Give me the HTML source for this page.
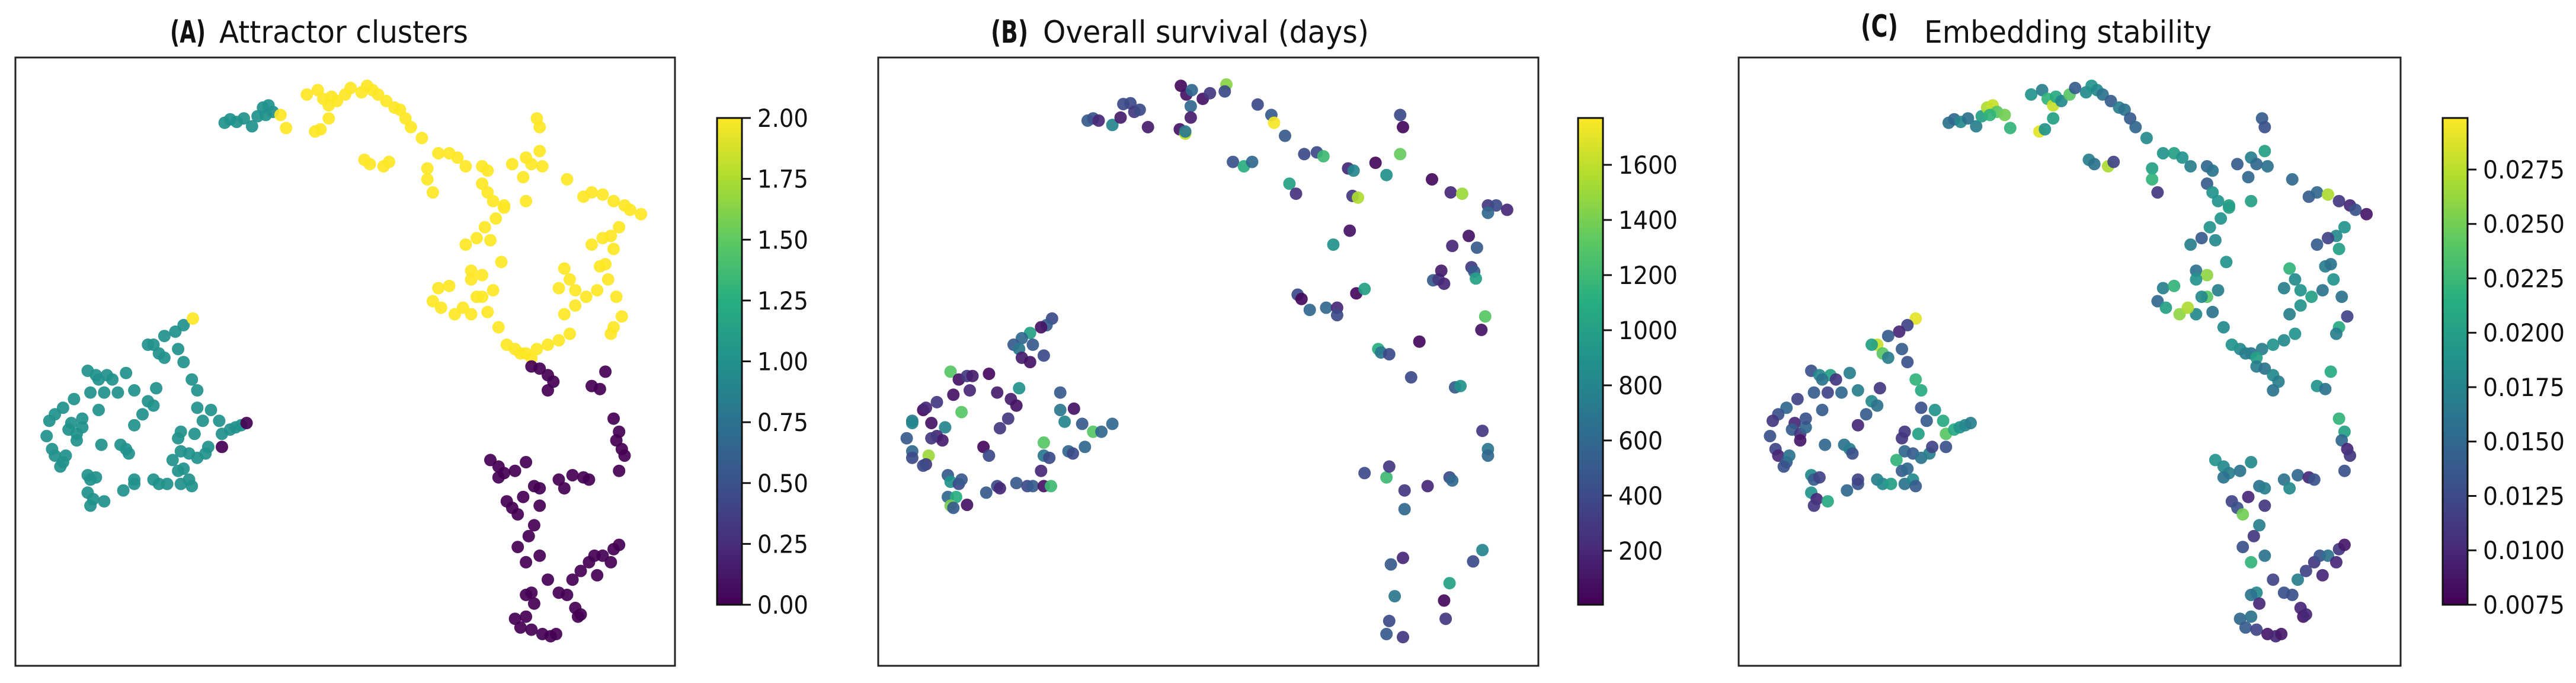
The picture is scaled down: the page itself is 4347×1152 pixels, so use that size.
<!DOCTYPE html>
<html><head><meta charset="utf-8"><style>
html,body{margin:0;padding:0;background:#fff;}
svg{display:block;font-family:"DejaVu Sans","Liberation Sans",sans-serif;}
</style></head>
<body>
<svg id="fig" width="4347" height="1152" viewBox="0 0 4347 1152" xmlns="http://www.w3.org/2000/svg">
<rect width="4347" height="1152" fill="#fff"/>
<g fill="#111">
<text x="287" y="72" font-size="52" font-weight="bold" textLength="60" lengthAdjust="spacingAndGlyphs">(A)</text>
<text x="370" y="72" font-size="52" textLength="420" lengthAdjust="spacingAndGlyphs">Attractor clusters</text></g>
<g fill="#111">
<text x="1672" y="72" font-size="52" font-weight="bold" textLength="63" lengthAdjust="spacingAndGlyphs">(B)</text>
<text x="1760" y="72" font-size="52" textLength="550" lengthAdjust="spacingAndGlyphs">Overall survival (days)</text></g>
<g fill="#111">
<text x="3140" y="62" font-size="52" font-weight="bold" textLength="63" lengthAdjust="spacingAndGlyphs">(C)</text>
<text x="3247" y="72" font-size="52" textLength="485" lengthAdjust="spacingAndGlyphs">Embedding stability</text></g>
</svg>
<script>
// ---- data (embedding coordinates) ----
const embXDomain = [28, 1232];
const embYDomain = [130, 1528];
const clusterTicks = [0, 0.25, 0.5, 0.75, 1.0, 1.25, 1.5, 1.75, 2.0];
const clusterTickLabels = ["0.00","0.25","0.50","0.75","1.00","1.25","1.50","1.75","2.00"];
const clusterRange = [0, 2];
const clusterPoints = [
[410,280,1],[420,272,1],[432,278,1],[445,270,1],[460,288,1],[470,265,1],[480,245,1],[490,240,1],[498,255,1],[485,262,1],[512,262,2],[522,292,2],
[560,215,2],[580,205,2],[590,225,2],[600,240,2],[605,220,2],[615,230,2],[630,215,2],[640,200,2],[660,210,2],[670,195,2],[680,205,2],[690,215,2],[705,230,2],[720,245,2],[730,250,2],[740,270,2],[750,290,2],[770,315,2],[575,300,2],[585,295,2],[600,270,2],[665,365,2],[675,375,2],[700,380,2],[710,370,2],[780,385,2],[780,410,2],[790,440,2],[800,350,2],[820,350,2],[835,360,2],[850,380,2],[880,380,2],[890,390,2],[880,420,2],[890,440,2],[900,460,2],[920,470,2],[935,375,2],[960,360,2],[970,375,2],[985,345,2],[990,380,2],[955,405,2],[980,270,2],[985,290,2],[960,460,2],[1035,410,2],[1065,450,2],[1080,440,2],[1100,445,2],[1120,460,2],[1140,470,2],[1150,480,2],[1170,490,2],[1130,520,2],[1115,540,2],[1100,545,2],[1080,560,2],[1120,570,2],[1095,610,2],[1105,605,2],[1030,615,2],[1040,640,2],[1020,660,2],[1050,665,2],[1090,665,2],[1110,640,2],[1125,680,2],[1070,680,2],[1050,700,2],[1030,720,2],[1135,725,2],[1120,750,2],[1115,765,2],[1040,765,2],[1020,780,2],[1000,790,2],[980,800,2],[960,810,2],[940,800,2],[925,790,2],[950,810,2],[970,820,2],[910,750,2],[890,715,2],[880,680,2],[900,665,2],[870,680,2],[860,720,2],[830,720,2],[845,705,2],[800,660,2],[790,690,2],[805,705,2],[820,655,2],[860,620,2],[880,630,2],[860,640,2],[915,600,2],[850,560,2],[870,545,2],[895,550,2],[885,520,2],[905,500,2],[920,475,2],
[970,840,0],[985,845,0],[1000,860,0],[1010,875,0],[1000,895,0],[1105,852,0],[1080,885,0],[1095,892,0],[1120,960,0],[1130,990,0],[1125,1010,0],[1135,1030,0],[1140,1045,0],[1130,1080,0],[895,1055,0],[910,1070,0],[920,1085,0],[940,1080,0],[960,1060,0],[910,1095,0],[925,1150,0],[935,1165,0],[945,1180,0],[955,1140,0],[975,1115,0],[985,1120,0],[985,1160,0],[1020,1100,0],[1030,1120,0],[1045,1090,0],[1065,1095,0],[1075,1100,0],[975,1205,0],[965,1230,0],[945,1255,0],[960,1290,0],[985,1275,0],[1000,1330,0],[970,1360,0],[960,1365,0],[975,1385,0],[1035,1365,0],[1045,1330,0],[1060,1310,0],[1075,1290,0],[1085,1275,0],[1100,1275,0],[1115,1290,0],[1120,1260,0],[1130,1250,0],[1090,1320,0],[1050,1395,0],[1055,1415,0],[1060,1410,0],[940,1420,0],[950,1440,0],[960,1415,0],[970,1445,0],[990,1455,0],[1005,1460,0],[1015,1455,0],[1020,1360,0],
[335,745,1],[320,760,1],[300,770,1],[280,790,1],[270,790,1],[290,810,1],[300,820,1],[325,800,1],[335,830,1],[160,850,1],[175,860,1],[195,860,1],[205,870,1],[230,855,1],[180,870,1],[350,870,1],[360,895,1],[245,895,1],[285,890,1],[270,920,1],[280,930,1],[260,950,1],[245,975,1],[215,900,1],[190,900,1],[165,900,1],[135,915,1],[115,935,1],[100,950,1],[90,965,1],[130,970,1],[125,985,1],[140,995,1],[150,980,1],[180,940,1],[150,960,1],[85,1000,1],[95,1030,1],[100,1045,1],[115,1060,1],[110,1070,1],[120,1045,1],[140,1010,1],[185,1020,1],[220,1020,1],[230,1030,1],[235,1040,1],[360,935,1],[385,940,1],[370,965,1],[400,965,1],[330,990,1],[355,995,1],[325,1005,1],[330,1035,1],[345,1040,1],[360,1050,1],[375,1040,1],[380,1025,1],[315,1055,1],[325,1080,1],[335,1075,1],[405,995,1],[420,985,1],[430,980,1],[440,975,1],[160,1090,1],[165,1100,1],[175,1095,1],[160,1130,1],[170,1145,1],[165,1160,1],[190,1150,1],[225,1125,1],[245,1110,1],[245,1100,1],[280,1100,1],[290,1110,1],[305,1110,1],[330,1110,1],[345,1100,1],[350,1115,1],[450,970,0],[405,1025,0],[352,730,2]
];
const survivalTicks = [200, 400, 600, 800, 1000, 1200, 1400, 1600];
const survivalTickLabels = ["200","400","600","800","1000","1200","1400","1600"];
const survivalRange = [4, 1770];
const survivalPoints = [
[580,195,50],[590,215,100],[600,205,600],[620,225,100],[633,212,300],[663,192,1450],[660,208,400],[720,238,400],[745,262,500],[750,280,1750],[770,310,500],[578,295,100],[588,305,1600],[588,300,700],[598,242,600],[598,268,150],[410,275,500],[420,270,450],[430,275,200],[455,285,800],[470,268,150],[475,237,400],[488,235,400],[495,255,300],[505,250,400],[520,290,150],[675,370,450],[695,380,1100],[710,370,600],[805,352,400],[828,348,400],[840,357,1200],[885,385,200],[895,390,800],[935,372,50],[980,352,1350],[955,400,900],[980,262,400],[985,290,50],[1038,410,50],[1072,440,200],[1093,443,1500],[778,420,1000],[790,443,250],[893,448,300],[903,452,1550],[1140,470,300],[1155,470,400],[1175,480,200],[1140,487,600],[888,528,100],[858,560,900],[1075,563,200],[1105,540,100],[1120,567,500],[1110,612,300],[1115,622,500],[1118,638,1000],[1040,642,500],[1050,640,300],[1055,620,150],[1060,650,200],[1135,725,1300],[1128,756,100],[793,675,400],[800,685,50],[815,710,600],[845,705,600],[865,705,200],[865,722,400],[900,672,50],[915,662,1000],[1015,783,50],[940,800,1100],[945,808,700],[960,812,400],[1000,865,400],[1080,888,500],[1090,885,900],[1130,988,300],[1140,1030,700],[1140,1045,600],[915,1085,400],[955,1095,1200],[960,1070,300],[988,1125,300],[988,1168,600],[1030,1115,200],[1070,1095,400],[1075,1102,600],[1130,1262,800],[1113,1288,400],[963,1295,500],[985,1280,200],[970,1368,700],[1060,1378,50],[1070,1338,1000],[955,1455,500],[960,1425,400],[985,1462,300],[1063,1420,300],
[345,730,400],[335,745,500],[325,750,100],[305,763,1000],[290,775,600],[275,790,500],[285,800,700],[290,820,150],[305,830,100],[310,790,500],[330,815,400],[160,852,1300],[175,870,100],[190,862,300],[200,862,150],[230,857,50],[245,900,150],[195,895,200],[165,905,100],[285,890,900],[270,915,150],[280,930,100],[265,960,300],[250,982,300],[180,945,1300],[110,940,50],[115,935,200],[135,922,300],[90,965,700],[90,970,800],[125,970,100],[150,980,800],[135,1000,200],[145,1010,150],[125,1005,300],[80,1005,500],[90,1035,600],[90,1050,400],[120,1045,1500],[115,1065,300],[110,1068,400],[220,1025,50],[230,1045,400],[360,900,500],[360,940,700],[385,937,100],[368,967,800],[400,972,500],[420,990,1300],[435,990,600],[455,972,600],[330,1015,1300],[330,1045,700],[340,1050,400],[375,1035,600],[383,1040,400],[405,1025,600],[325,1080,200],[155,1090,500],[160,1105,900],[175,1110,400],[180,1100,500],[155,1140,600],[170,1140,1100],[160,1160,1400],[165,1165,500],[190,1158,100],[225,1130,500],[245,1115,400],[250,1120,200],[280,1108,500],[300,1115,400],[310,1115,500],[330,1115,100],[343,1115,1200]
];
const stabilityTicks = [0.0075,0.01,0.0125,0.015,0.0175,0.02,0.0225,0.025,0.0275];
const stabilityTickLabels = ["0.0075","0.0100","0.0125","0.0150","0.0175","0.0200","0.0225","0.0250","0.0275"];
const stabilityRange = [0.0075, 0.02987];
const stabilityPoints = [
[410,280,0.016],[420,272,0.015],[432,278,0.018],[445,270,0.016],[460,288,0.017],[470,265,0.020],[480,245,0.027],[490,240,0.028],[498,255,0.024],[485,262,0.022],[512,262,0.025],[522,292,0.022],
[560,215,0.019],[580,205,0.017],[590,225,0.022],[600,240,0.028],[605,220,0.021],[615,230,0.018],[630,215,0.024],[640,200,0.014],[660,210,0.018],[670,195,0.019],[680,205,0.018],[690,215,0.016],[705,230,0.014],[720,245,0.017],[730,250,0.016],[740,270,0.014],[750,290,0.015],[770,315,0.018],[575,300,0.029],[585,295,0.019],[600,270,0.020],[665,365,0.017],[675,375,0.016],[700,380,0.027],[710,370,0.012],[780,385,0.020],[780,410,0.022],[790,440,0.011],[800,350,0.019],[820,350,0.020],[835,360,0.019],[850,380,0.017],[880,380,0.015],[890,390,0.016],[880,420,0.014],[890,440,0.019],[900,460,0.019],[920,470,0.020],[935,375,0.014],[960,360,0.017],[970,375,0.015],[985,345,0.020],[990,380,0.016],[955,405,0.015],[980,270,0.014],[985,290,0.013],[960,460,0.020],[1035,410,0.015],[1065,450,0.014],[1080,440,0.015],[1100,445,0.027],[1120,460,0.011],[1140,470,0.010],[1150,480,0.013],[1170,490,0.009],[1130,520,0.019],[1115,540,0.018],[1100,545,0.012],[1080,560,0.014],[1120,570,0.020],[1095,610,0.017],[1105,605,0.016],[1030,615,0.022],[1040,640,0.018],[1020,660,0.017],[1050,665,0.019],[1090,665,0.016],[1110,640,0.019],[1125,680,0.016],[1070,680,0.020],[1050,700,0.019],[1030,720,0.017],[1135,725,0.012],[1120,750,0.021],[1115,765,0.017],[1040,765,0.019],[1020,780,0.018],[1000,790,0.019],[980,800,0.017],[960,810,0.016],[940,800,0.018],[925,790,0.019],[950,810,0.017],[970,820,0.020],[910,750,0.018],[890,715,0.016],[880,680,0.024],[900,665,0.017],[870,680,0.018],[860,720,0.018],[830,720,0.026],[845,705,0.027],[800,660,0.017],[790,690,0.015],[805,705,0.020],[820,655,0.022],[860,620,0.016],[880,630,0.026],[860,640,0.019],[915,600,0.019],[850,560,0.017],[870,545,0.014],[895,550,0.018],[885,520,0.019],[905,500,0.019],[920,475,0.020],
[970,840,0.017],[985,845,0.016],[1000,860,0.018],[1010,875,0.017],[1000,895,0.016],[1105,852,0.021],[1080,885,0.019],[1095,892,0.016],[1120,960,0.022],[1130,990,0.020],[1125,1010,0.015],[1135,1030,0.010],[1140,1045,0.011],[1130,1080,0.013],[895,1055,0.019],[910,1070,0.018],[920,1085,0.017],[940,1080,0.016],[960,1060,0.018],[910,1095,0.016],[925,1150,0.012],[935,1165,0.013],[945,1180,0.025],[955,1140,0.010],[975,1115,0.016],[985,1120,0.017],[985,1160,0.011],[1020,1100,0.016],[1030,1120,0.018],[1045,1090,0.015],[1065,1095,0.010],[1075,1100,0.013],[975,1205,0.017],[965,1230,0.011],[945,1255,0.013],[960,1290,0.022],[985,1275,0.016],[1000,1330,0.012],[970,1360,0.018],[960,1365,0.016],[975,1385,0.010],[1035,1365,0.013],[1045,1330,0.017],[1060,1310,0.012],[1075,1290,0.011],[1085,1275,0.013],[1100,1275,0.016],[1115,1290,0.010],[1120,1260,0.011],[1130,1250,0.009],[1090,1320,0.010],[1050,1395,0.010],[1055,1415,0.009],[1060,1410,0.010],[940,1420,0.015],[950,1440,0.014],[960,1415,0.016],[970,1445,0.012],[990,1455,0.009],[1005,1460,0.010],[1015,1455,0.009],[1020,1360,0.013],
[350,730,0.029],[335,745,0.012],[320,760,0.010],[300,770,0.014],[280,790,0.028],[270,790,0.020],[290,810,0.024],[300,820,0.017],[325,800,0.014],[335,830,0.013],[160,850,0.013],[175,860,0.018],[195,860,0.020],[205,870,0.011],[230,855,0.017],[180,870,0.016],[350,870,0.022],[360,895,0.021],[245,895,0.017],[285,890,0.011],[270,920,0.018],[280,930,0.016],[260,950,0.014],[245,975,0.010],[215,900,0.015],[190,900,0.012],[165,900,0.014],[135,915,0.012],[115,935,0.015],[100,950,0.013],[90,965,0.011],[130,970,0.010],[125,985,0.014],[140,995,0.011],[150,980,0.015],[180,940,0.014],[150,960,0.013],[85,1000,0.013],[95,1030,0.012],[100,1045,0.010],[115,1060,0.014],[110,1070,0.013],[120,1045,0.016],[140,1010,0.009],[185,1020,0.015],[220,1020,0.016],[230,1030,0.017],[235,1040,0.013],[360,935,0.013],[385,940,0.019],[370,965,0.014],[400,965,0.021],[330,990,0.011],[355,995,0.020],[325,1005,0.011],[330,1035,0.015],[345,1040,0.014],[360,1050,0.016],[375,1040,0.017],[380,1025,0.012],[315,1055,0.022],[325,1080,0.014],[335,1075,0.015],[405,995,0.024],[420,985,0.021],[430,980,0.019],[440,975,0.018],[160,1090,0.018],[165,1100,0.014],[175,1095,0.012],[160,1130,0.019],[170,1145,0.010],[165,1160,0.011],[190,1150,0.021],[225,1125,0.015],[245,1110,0.013],[245,1100,0.012],[280,1100,0.017],[290,1110,0.018],[305,1110,0.020],[330,1110,0.016],[345,1100,0.018],[350,1115,0.014],[450,970,0.017],[405,1025,0.013]
];

// ---- rendering ----
const NS = "http://www.w3.org/2000/svg";
const svg = document.getElementById("fig");
const VIR = ["#440154","#472d7b","#3b528b","#2c728e","#21918c","#28ae80","#5ec962","#addc30","#fde725"];
function hex(c){return [parseInt(c.slice(1,3),16),parseInt(c.slice(3,5),16),parseInt(c.slice(5,7),16)];}
function viridis(t){
  t=Math.max(0,Math.min(1,t));
  const p=t*(VIR.length-1), i=Math.min(VIR.length-2,Math.floor(p)), f=p-i;
  const a=hex(VIR[i]), b=hex(VIR[i+1]);
  return "rgb("+a.map((v,k)=>Math.round(v+(b[k]-v)*f)).join(",")+")";
}
function mk(tag, attrs, parent){
  const e=document.createElementNS(NS,tag);
  for(const k in attrs) e.setAttribute(k,attrs[k]);
  (parent||svg).appendChild(e);
  return e;
}
function panel(cfg){
  const g=mk("g",{});
  
  
  const frame=mk("rect",{x:cfg.x0,y:97,width:cfg.x1-cfg.x0,height:1026,fill:"none",stroke:"#222","stroke-width":3},g);
  
  
  const sx=v=>cfg.x0+(v-embXDomain[0])/(embXDomain[1]-embXDomain[0])*(cfg.x1-cfg.x0);
  const sy=v=>97+(v-embYDomain[0])/(embYDomain[1]-embYDomain[0])*1026;
  const cs=v=>(v-cfg.range[0])/(cfg.range[1]-cfg.range[0]);
  const pg=mk("g",{"fill-opacity":0.92},g);
  
  
  cfg.points.forEach(p=>{
    const c=mk("circle",{cx:sx(p[0]).toFixed(1),cy:sy(p[1]).toFixed(1),r:10.5,fill:viridis(cs(p[2]))},pg);
    
    
  });
  const cb=mk("g",{},g);
  
  
  const top=199, bot=1020, cx0=cfg.cb, cw=42;
  const gid="grad-"+cfg.name;
  const defs=mk("defs",{},cb);
  const lg=mk("linearGradient",{id:gid,x1:0,y1:1,x2:0,y2:0},defs);
  VIR.forEach((c,i)=>mk("stop",{offset:(i/(VIR.length-1)),"stop-color":c},lg));
  mk("rect",{x:cx0,y:top,width:cw,height:bot-top,fill:"url(#"+gid+")",stroke:"#111","stroke-width":3},cb);
  const cy=v=>bot-cs(v)*(bot-top);
  cfg.ticks.forEach((v,i)=>{
    const y=cy(v);
    mk("line",{x1:cx0+cw,x2:cx0+cw+15,y1:y,y2:y,stroke:"#111","stroke-width":3},cb);
    const t=mk("text",{x:cx0+cw+26,y:y+15,"font-size":42,fill:"#111",textLength:cfg.tl*cfg.labels[i].length,lengthAdjust:"spacingAndGlyphs"},cb);
    t.textContent=cfg.labels[i];
    
    
  });
}
panel({name:"panel-a-clusters",x0:26,x1:1139,cb:1210,points:clusterPoints,range:clusterRange,ticks:clusterTicks,labels:clusterTickLabels,tl:21.5});
panel({name:"panel-b-survival",x0:1482,x1:2596,cb:2663,points:survivalPoints,range:survivalRange,ticks:survivalTicks,labels:survivalTickLabels,tl:25});
panel({name:"panel-c-stability",x0:2934,x1:4051,cb:4122,points:stabilityPoints,range:stabilityRange,ticks:stabilityTicks,labels:stabilityTickLabels,tl:23});
</script>
</body></html>
